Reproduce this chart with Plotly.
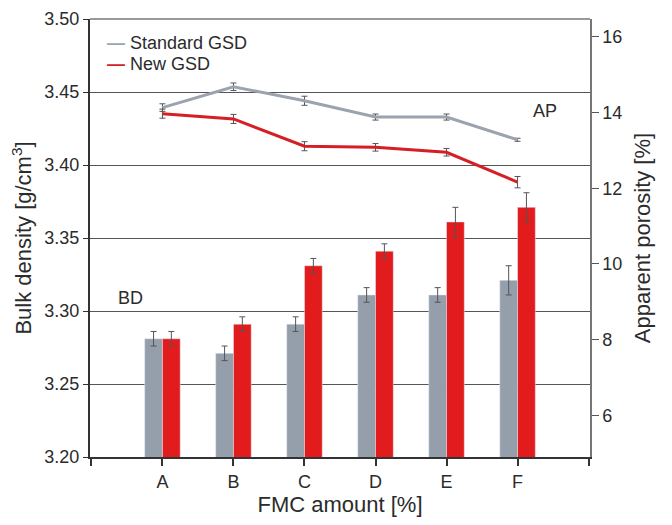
import plotly.graph_objects as go

categories = ["A", "B", "C", "D", "E", "F"]
bd_standard = [3.281, 3.271, 3.291, 3.311, 3.311, 3.321]
bd_standard_err = [0.005, 0.005, 0.005, 0.005, 0.005, 0.010]
bd_new = [3.281, 3.291, 3.331, 3.341, 3.361, 3.371]
bd_new_err = [0.005, 0.005, 0.005, 0.005, 0.010, 0.010]
ap_standard = [14.13, 14.68, 14.31, 13.88, 13.88, 13.28]
ap_standard_err = [0.10, 0.10, 0.12, 0.08, 0.08, 0.04]
ap_new = [13.97, 13.83, 13.11, 13.08, 12.95, 12.16]
ap_new_err = [0.12, 0.12, 0.12, 0.10, 0.10, 0.15]
left_ticks = [3.20, 3.25, 3.30, 3.35, 3.40, 3.45, 3.50]
right_ticks = [6, 8, 10, 12, 14, 16]

GRAY_BAR = "#959eab"
RED_BAR = "#e21b1d"
GRAY_LINE = "#9aa3ae"
RED_LINE = "#d51f25"
ERR = "#555555"
TXT = "#2b2b2b"
FONT = "Liberation Sans, Arial, sans-serif"

xs = list(range(len(categories)))

fig = go.Figure()
fig.add_trace(go.Bar(x=xs, y=bd_standard, name="Standard GSD (BD)", marker_color=GRAY_BAR,
                     error_y=dict(type="data", array=bd_standard_err, color=ERR, thickness=1, width=3),
                     showlegend=False, yaxis="y"))
fig.add_trace(go.Bar(x=xs, y=bd_new, name="New GSD (BD)", marker_color=RED_BAR,
                     error_y=dict(type="data", array=bd_new_err, color=ERR, thickness=1, width=3),
                     showlegend=False, yaxis="y"))
fig.add_trace(go.Scatter(x=xs, y=ap_standard, name="Standard GSD", mode="lines",
                         line=dict(color=GRAY_LINE, width=3),
                         error_y=dict(type="data", array=ap_standard_err, color=ERR, thickness=1, width=3),
                         showlegend=False, yaxis="y2"))
fig.add_trace(go.Scatter(x=xs, y=ap_new, name="New GSD", mode="lines",
                         line=dict(color=RED_LINE, width=3),
                         error_y=dict(type="data", array=ap_new_err, color=ERR, thickness=1, width=3),
                         showlegend=False, yaxis="y2"))

fig.update_layout(
    width=656, height=509,
    margin=dict(l=82, r=74, t=11, b=60),
    paper_bgcolor="white", plot_bgcolor="white",
    font=dict(family=FONT, size=18, color=TXT),
    barmode="group", bargap=0.5, bargroupgap=0,
    xaxis=dict(
        range=[-1.02, 6.02], automargin=False,
        tickvals=xs, ticktext=categories,
        ticks="outside", ticklen=7, tickcolor="#333", tickwidth=1.5,
        minor=dict(tickvals=[-1, 6], ticks="outside", ticklen=7, tickcolor="#333", tickwidth=1.5, showgrid=False),
        showline=True, linecolor="#333", linewidth=2,
        showgrid=False, zeroline=False,
        title=dict(text="FMC amount [%]", standoff=8),
    ),
    yaxis=dict(
        range=[3.20, 3.50], automargin=False, ticklabeloverflow="allow",
        tickvals=left_ticks, tickformat=".2f",
        ticks="outside", ticklen=5, tickcolor="#333",
        showline=True, linecolor="#333", linewidth=2,
        showgrid=True, gridcolor="#555555", gridwidth=1,
        zeroline=False,
        title=dict(text="Bulk density [g/cm<sup>3</sup>]", standoff=12),
    ),
    yaxis2=dict(
        overlaying="y", side="right", automargin=False, ticklabeloverflow="allow",
        range=[4.9, 16.47],
        tickvals=right_ticks,
        ticks="outside", ticklen=7, tickcolor="#555",
        showline=True, linecolor="#777", linewidth=1.5,
        showgrid=False, zeroline=False,
        title=dict(text="Apparent porosity [%]", standoff=13),
    ),
    shapes=[dict(type="line", xref="paper", yref="paper", x0=0, x1=1, y0=1, y1=1,
                 line=dict(color="#777", width=1.5))],
    annotations=[
        dict(xref="paper", yref="paper", x=0.03, y=0.945, xanchor="left", yanchor="middle",
             text=f"<span style='color:{GRAY_LINE}'><b>\u2014</b></span> Standard GSD",
             showarrow=False, font=dict(size=18)),
        dict(xref="paper", yref="paper", x=0.03, y=0.897, xanchor="left", yanchor="middle",
             text=f"<span style='color:{RED_LINE}'><b>\u2014</b></span> New GSD",
             showarrow=False, font=dict(size=18)),
        dict(xref="x", yref="y2", x=5.38, y=14.05, text="AP", showarrow=False,
             xanchor="center", yanchor="middle", font=dict(size=18)),
        dict(xref="x", yref="y", x=-0.45, y=3.309, text="BD", showarrow=False,
             xanchor="center", yanchor="middle", font=dict(size=18)),
    ],
)

fig.write_html("out.html")
